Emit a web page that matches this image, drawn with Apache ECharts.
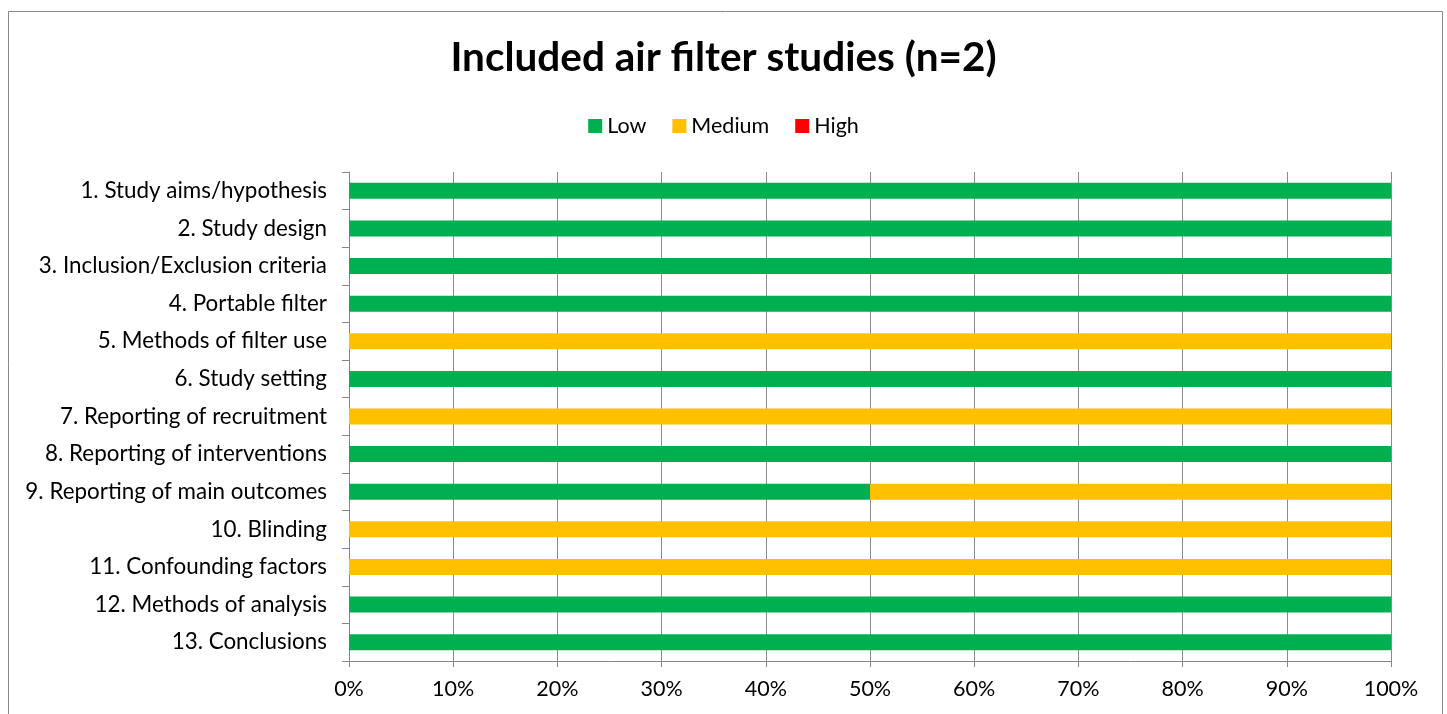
<!DOCTYPE html>
<html>
<head>
<meta charset="utf-8">
<script src="https://cdn.jsdelivr.net/npm/echarts@6/dist/echarts.min.js"></script>
<style>
  html, body { margin: 0; padding: 0; background: #fff; }
  #main { width: 1447px; height: 714px; }
</style>
</head>
<body>
<div id="main"></div>
<script>
var categories = [
    '1. Study aims/hypothesis',
    '2. Study design',
    '3. Inclusion/Exclusion criteria',
    '4. Portable filter',
    '5. Methods of filter use',
    '6. Study setting',
    '7. Reporting of recruitment',
    '8. Reporting of interventions',
    '9. Reporting of main outcomes',
    '10. Blinding',
    '11. Confounding factors',
    '12. Methods of analysis',
    '13. Conclusions'
];
// percent of studies per rating
var lowValues    = [100, 100, 100, 100, 0, 100, 0, 100, 50, 0, 0, 100, 100];
var mediumValues = [0, 0, 0, 0, 100, 0, 100, 0, 50, 100, 100, 0, 0];
var highValues   = [0, 0, 0, 0, 0, 0, 0, 0, 0, 0, 0, 0, 0];
var tickValues = [0, 10, 20, 30, 40, 50, 60, 70, 80, 90, 100];

var font = 'Lato, "Open Sans", sans-serif';
var myChart = echarts.init(document.getElementById('main'));

var option = {
    animation: false,
    textStyle: { fontFamily: font },
    title: {
        text: 'Included air filter studies (n=2)',
        left: 'center',
        top: 32,
        textStyle: { fontSize: 40.5, fontWeight: 'bold', color: '#000', fontFamily: font }
    },
    legend: {
        top: 110,
        left: 'center',
        itemWidth: 14,
        itemHeight: 14,
        itemGap: 26,
        icon: 'rect',
        textStyle: { fontSize: 21.5, color: '#000', fontFamily: font },
        data: ['Low', 'Medium', 'High']
    },
    graphic: [{
        type: 'rect',
        shape: { x: 8.5, y: 11.5, width: 1434, height: 720 },
        style: { fill: 'none', stroke: '#888', lineWidth: 1 },
        silent: true
    }],
    grid: { left: 349, right: 56, top: 172, bottom: 53 },
    xAxis: {
        type: 'value',
        min: 0,
        max: 100,
        interval: 10,
        axisLine: { show: true, lineStyle: { color: '#868686' } },
        axisTick: { show: true, length: 6, lineStyle: { color: '#868686' } },
        axisLabel: {
            fontSize: 21.5, color: '#000', margin: 17, fontFamily: font,
            formatter: function (v) { return tickValues.indexOf(v) >= 0 ? v + '%' : ''; }
        },
        splitLine: { show: true, lineStyle: { color: '#8c8c8c' } }
    },
    yAxis: {
        type: 'category',
        inverse: true,
        data: categories,
        axisLine: { show: true, lineStyle: { color: '#868686' } },
        axisTick: { show: true, length: 7, lineStyle: { color: '#868686' } },
        axisLabel: { fontSize: 22.4, color: '#000', margin: 22, fontFamily: font }
    },
    series: [
        { name: 'Low', type: 'bar', stack: 'r', barWidth: 16, data: lowValues, itemStyle: { color: '#00b050' } },
        { name: 'Medium', type: 'bar', stack: 'r', barWidth: 16, data: mediumValues, itemStyle: { color: '#ffc000' } },
        { name: 'High', type: 'bar', stack: 'r', barWidth: 16, data: highValues, itemStyle: { color: '#ff0000' } }
    ]
};
myChart.setOption(option);
</script>
</body>
</html>
